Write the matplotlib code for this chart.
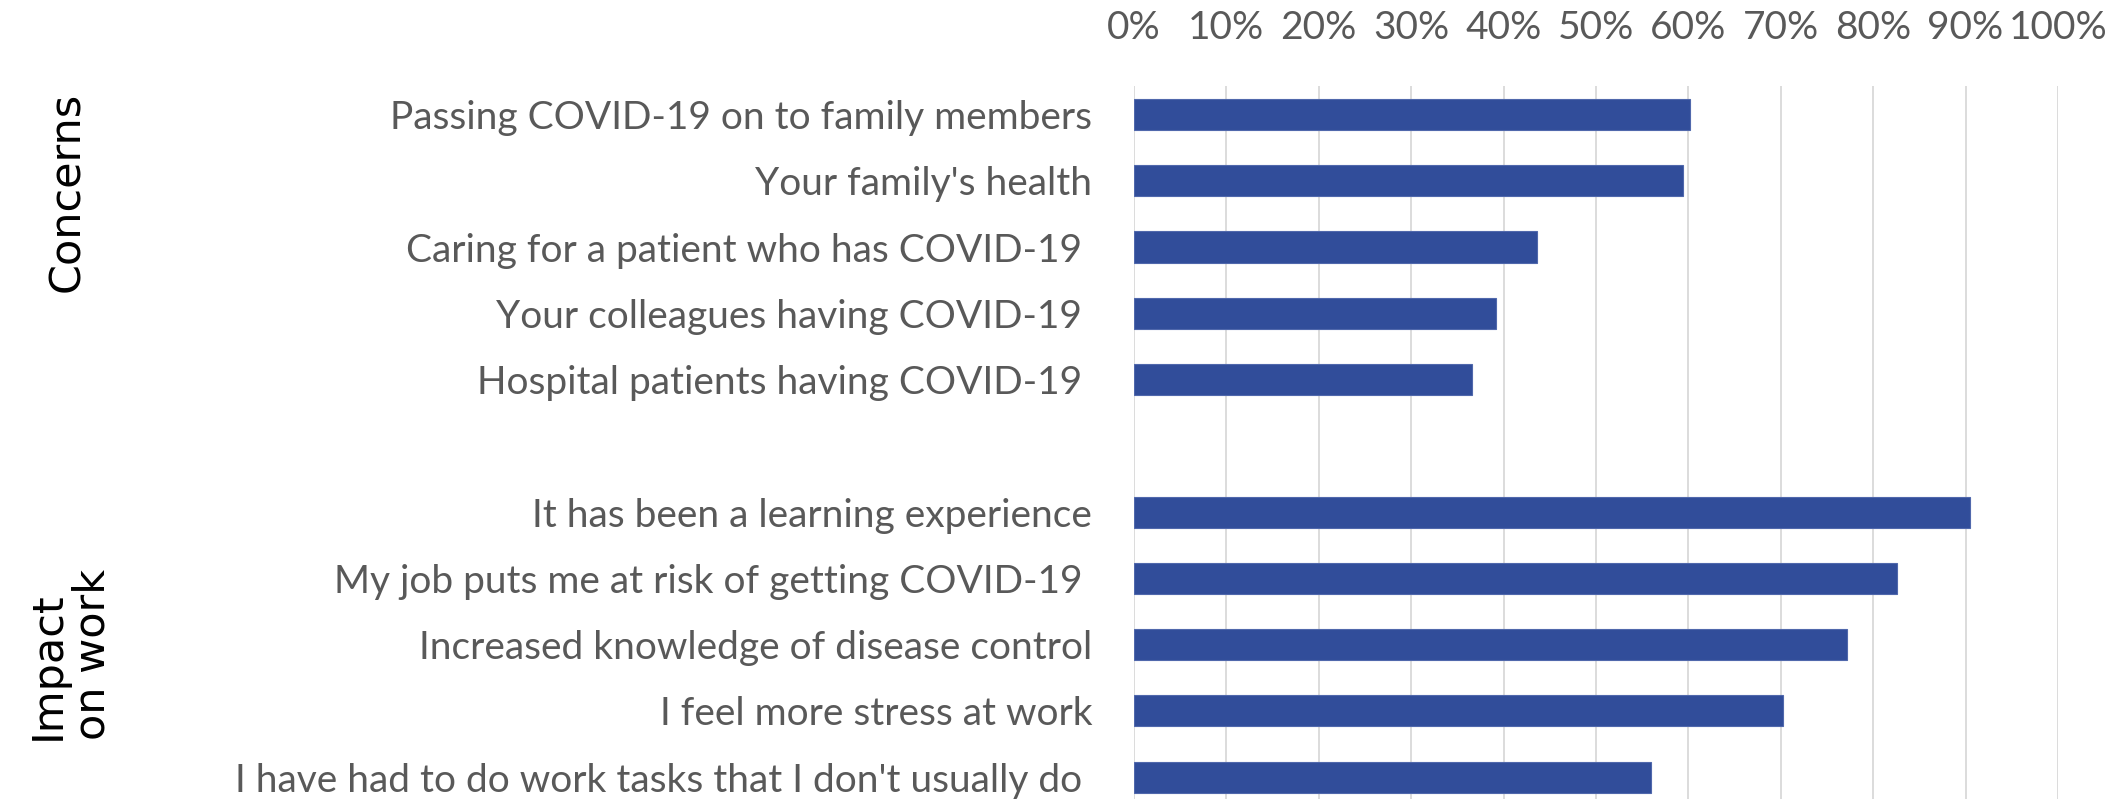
import matplotlib.pyplot as plt
from matplotlib.ticker import PercentFormatter

# survey items, top to bottom; the blank slot separates the two groups
concern_labels = [
    "Passing COVID-19 on to family members",
    "Your family's health",
    "Caring for a patient who has COVID-19 ",
    "Your colleagues having COVID-19 ",
    "Hospital patients having COVID-19 ",
]
concern_values = [60.2, 59.4, 43.6, 39.2, 36.6]

impact_labels = [
    "It has been a learning experience",
    "My job puts me at risk of getting COVID-19 ",
    "Increased knowledge of disease control",
    "I feel more stress at work",
    "I have had to do work tasks that I don't usually do ",
]
impact_values = [90.5, 82.6, 77.2, 70.2, 56.0]

x_ticks = list(range(0, 101, 10))

BAR = "#314D9A"
GRID = "#D9D9D9"
TXT = "#595959"

labels = concern_labels + [""] + impact_labels
values = concern_values + [None] + impact_values
pos = list(range(len(labels)))

fig = plt.figure(figsize=(21.16, 8.07), dpi=100)
ax = fig.add_axes([0.5359, 0.0099, 0.9726 - 0.5359, 0.8934 - 0.0099])

bar_pos = [p for p, v in zip(pos, values) if v is not None]
bar_val = [v for v in values if v is not None]
ax.barh(bar_pos, bar_val, height=0.47, color=BAR, edgecolor="#5068AC", linewidth=0.8, zorder=3)

ax.set_xlim(0, 100)
ax.set_ylim(10.33, -0.43)
ax.set_xticks(x_ticks)
ax.xaxis.set_major_formatter(PercentFormatter(decimals=0))
ax.xaxis.tick_top()
ax.set_yticks(pos)
ax.set_yticklabels(labels)
ax.tick_params(axis="both", length=0, colors=TXT, labelsize=28)
ax.tick_params(axis="y", pad=30)
ax.tick_params(axis="x", pad=29)
for t in ax.get_xticklabels() + ax.get_yticklabels():
    t.set_family("Lato")
ax.grid(axis="x", color=GRID, linewidth=1.3, zorder=0)
for s in ax.spines.values():
    s.set_visible(False)

# group labels down the left side
fig.text(67 / 2116, 1 - 192 / 807, "Concerns", rotation=90, ha="center", va="center",
         fontsize=31, family="DejaVu Sans", color="black")
fig.text(70 / 2116, 1 - 740 / 807, "Impact\non work", rotation=90, ha="center", va="bottom",
         multialignment="left", fontsize=31, family="DejaVu Sans", color="black",
         linespacing=1.1)

fig.savefig("out.png", dpi=100)
